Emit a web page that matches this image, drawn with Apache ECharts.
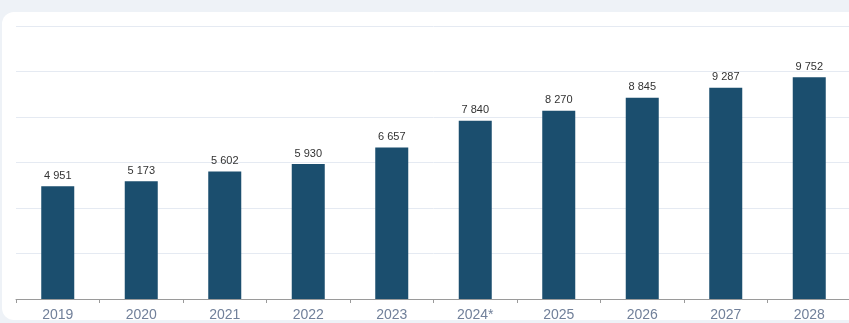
<!DOCTYPE html>
<html>
<head>
<meta charset="utf-8">
<script src="https://cdn.jsdelivr.net/npm/echarts@6/dist/echarts.min.js"></script>
<style>
  html, body { margin: 0; padding: 0; background: #eef2f7; overflow: hidden; }
  .card { position: absolute; left: 2px; top: 12px; width: 900px; height: 308px; background: #fff; border-radius: 12px; }
  #main { position: absolute; left: 0; top: 0; width: 851px; height: 323px; }
</style>
</head>
<body>
<div class="card"></div>
<div id="main"></div>
<script>
const years = ['2019', '2020', '2021', '2022', '2023', '2024*', '2025', '2026', '2027', '2028']
const values = [4951, 5173, 5602, 5930, 6657, 7840, 8270, 8845, 9287, 9752]

// 4 951 style formatting
function fmt (v) {
  return String(v).replace(/\B(?=(\d{3})+(?!\d))/g, ' ')
}

const myChart = echarts.init(document.getElementById('main'))
myChart.setOption({
  animation: false,
  backgroundColor: 'transparent',
  textStyle: { fontFamily: 'Liberation Sans, Arial, sans-serif' },
  grid: { left: 16, right: 0, top: 26, bottom: 24, containLabel: false },
  xAxis: {
    type: 'category',
    data: years,
    axisLine: { lineStyle: { color: '#9a9a9a', width: 1 } },
    axisTick: { show: true, length: 4, lineStyle: { color: '#9a9a9a' } },
    axisLabel: { color: '#71809a', fontSize: 14, margin: 9 }
  },
  yAxis: {
    type: 'value',
    min: 0,
    max: 12000,
    interval: 2000,
    axisLabel: { show: false },
    axisLine: { show: false },
    axisTick: { show: false },
    splitLine: { lineStyle: { color: '#e5eaf2', width: 1 } }
  },
  series: [
    {
      type: 'bar',
      data: values,
      barWidth: 33,
      itemStyle: { color: '#1b4e6e' },
      label: {
        show: true,
        position: 'top',
        distance: 5,
        color: '#333',
        fontSize: 11,
        formatter: p => fmt(p.value)
      }
    }
  ]
})
</script>
</body>
</html>
